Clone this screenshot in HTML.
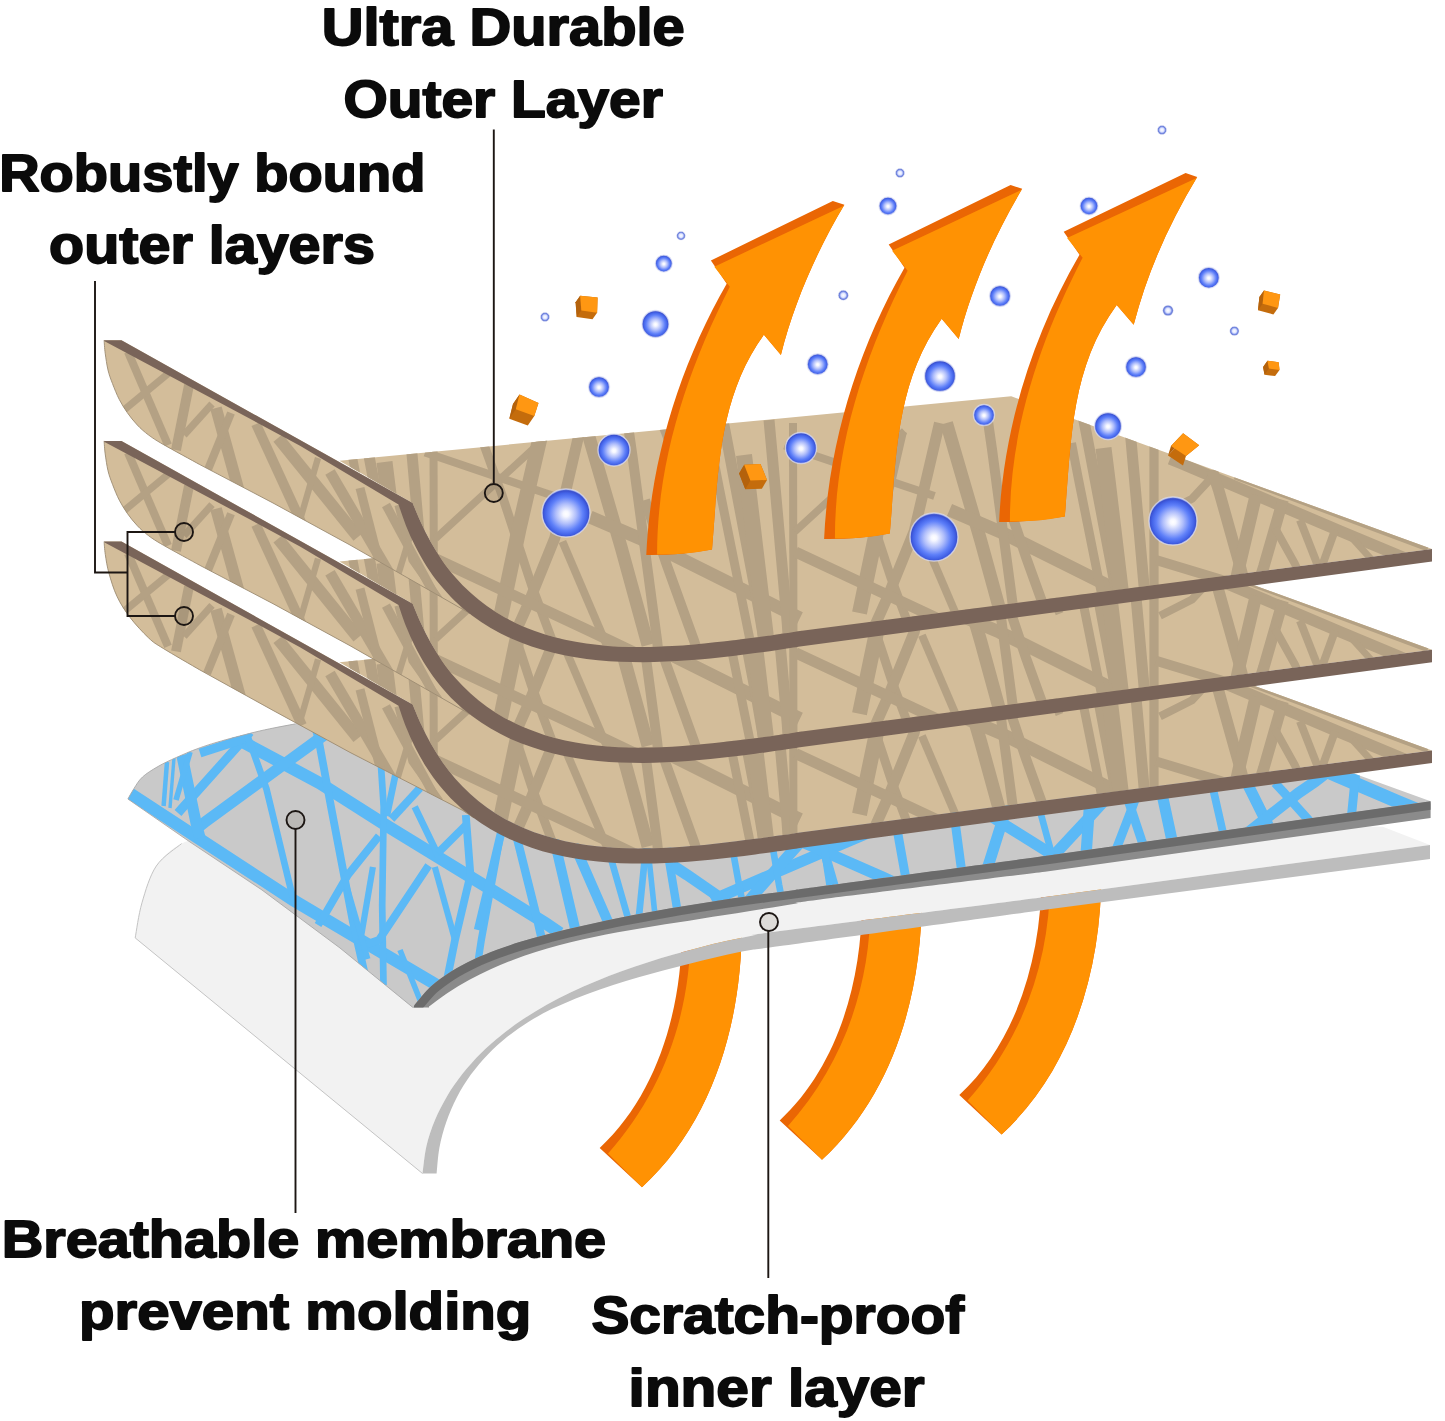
<!DOCTYPE html>
<html lang="en">
<head>
<meta charset="utf-8">
<title>Layer diagram</title>
<style>
html,body{margin:0;padding:0;background:#fff;}
body{width:1445px;height:1421px;overflow:hidden;}
svg{display:block;}
text{font-family:"Liberation Sans",sans-serif;font-weight:bold;fill:#0b0b0b;}
</style>
</head>
<body>
<svg width="1445" height="1421" viewBox="0 0 1445 1421">
<defs>
<radialGradient id="bub" cx="50%" cy="52%" r="50%">
<stop offset="0" stop-color="#ffffff"/>
<stop offset="0.12" stop-color="#f6f7ff"/>
<stop offset="0.42" stop-color="#b0befb"/>
<stop offset="0.7" stop-color="#5f80f9"/>
<stop offset="0.87" stop-color="#4363e8"/>
<stop offset="0.96" stop-color="#3a50cf"/>
<stop offset="1" stop-color="#5a6fd6"/>
</radialGradient>
<radialGradient id="bubS" cx="50%" cy="50%" r="50%">
<stop offset="0" stop-color="#ffffff"/>
<stop offset="0.45" stop-color="#dfe5ff"/>
<stop offset="0.72" stop-color="#7f93ea"/>
<stop offset="0.9" stop-color="#5468cc"/>
<stop offset="1" stop-color="#6f81d6"/>
</radialGradient>
<clipPath id="cTop"><path d="M339.4,460.8 L1011.2,396.3 L1432,549 L800,631 C796.5,631.5 785.9,633.2 778.8,634.2 C771.7,635.3 764.6,636.3 757.5,637.2 C750.4,638.1 743.3,639 736.1,639.9 C729,640.8 721.9,641.6 714.8,642.3 C707.7,643.1 700.6,643.8 693.5,644.4 C686.4,645 679.3,645.6 672.1,646 C665,646.4 657.9,646.7 650.7,646.9 C643.5,647 636.4,647.1 629.2,646.9 C622,646.8 614.8,646.5 607.7,645.9 C600.5,645.4 593.4,644.6 586.3,643.6 C579.2,642.6 572.1,641.3 565.1,639.8 C558.1,638.2 551.1,636.4 544.3,634.2 C537.5,632.1 530.7,629.6 524.2,626.9 C517.6,624.1 511.2,620.9 504.9,617.5 C498.7,614 492.7,610.2 486.9,606.1 C481.1,601.9 475.5,597.4 470.3,592.6 C465,587.8 460,582.7 455.3,577.3 C450.6,571.9 446.1,566.1 442,560.2 C437.9,554.3 434.2,548.1 430.6,541.8 C427.1,535.5 423.9,529 420.9,522.5 C417.9,516.1 414,506.3 412.6,503 Z"/></clipPath>
<clipPath id="cFlap"><path d="M104.1,340.2 L121.5,340.2 L412.6,503 C414,506.3 417.9,516.1 420.9,522.5 C423.9,529 427.1,535.5 430.6,541.8 C434.2,548.1 437.9,554.3 442,560.2 C446.1,566.1 450.6,571.9 455.3,577.3 C460,582.7 465,587.8 470.3,592.6 C475.5,597.4 484.1,603.8 486.9,606.1 L470,613.5 L350,545 L273,503 L199.8,464.6 C193.7,461.2 171.7,449.3 163.2,444.4 C154.7,439.5 152.9,438.2 148.6,435 C144.3,431.8 140.9,428.8 137.3,425 C133.7,421.2 130.2,416.8 127.2,412.5 C124.2,408.2 121.8,404.3 119.3,399.5 C116.8,394.7 114.4,388.5 112.5,383.6 C110.6,378.7 109.2,375.1 108,370 C106.8,364.9 105.9,358.2 105.2,353.2 C104.5,348.2 104.3,342.4 104.1,340.2 Z"/></clipPath>
<clipPath id="cFlap3"><path d="M104.1,340.2 L121.5,340.2 L412.6,503 C414,506.3 417.9,516.1 420.9,522.5 C423.9,529 427.1,535.5 430.6,541.8 C434.2,548.1 437.9,554.3 442,560.2 C446.1,566.1 450.6,571.9 455.3,577.3 C460,582.7 465,587.8 470.3,592.6 C475.5,597.4 484.1,603.8 486.9,606.1 L474,616.5 L462.7,609 L350,551 L273,509 L199.8,468.5 C193.7,464.9 171.7,452.3 163.2,447 C154.7,441.7 154.1,441.7 148.6,436.5 C143.1,431.3 135.3,422.9 130,416 C124.7,409.1 120.5,402.3 117,395 C113.5,387.7 111,379 109,372 C107,365 106.1,358.3 105.3,353 C104.5,347.7 104.3,342.3 104.1,340.2 Z"/></clipPath>
<clipPath id="cMemBand"><path d="M414.5,1005 C417.3,1001.9 425,991.9 431.1,986.3 C437.3,980.8 444.1,976 451.1,971.5 C458.2,967 465.7,963.2 473.4,959.5 C481,955.9 489,952.8 496.9,949.8 C504.9,946.8 513.1,944.2 521.3,941.6 C529.4,939.1 537.7,936.8 545.9,934.7 C554.1,932.5 562.4,930.5 570.6,928.5 C578.8,926.6 587,924.7 595.3,923 C603.5,921.2 611.7,919.5 619.9,917.8 C628.1,916.2 636.3,914.6 644.5,913.1 C652.7,911.5 660.9,910 669.2,908.6 C677.5,907.1 685.8,905.7 694.1,904.4 C702.5,903 710.9,901.7 719.3,900.4 C727.7,899.1 736.2,897.9 744.6,896.7 C753.1,895.5 761.6,894.4 770.1,893.2 C778.5,892.1 787,891 795.3,889.9 C803.7,888.7 778.4,892.1 820,886.5 C861.6,880.9 1007.5,861.1 1045,856 L1430.6,801.3 L1430.6,818 L1045,871.7 C1007.5,876.3 861.5,894.1 820,899.4 C778.5,904.7 804.2,902.1 796.3,903.4 C788.4,904.7 780.4,906.1 772.5,907.4 C764.5,908.7 756.6,910 748.6,911.3 C740.7,912.6 732.7,913.8 724.8,915.1 C716.8,916.3 708.9,917.5 700.9,918.7 C693,920 685.1,921.2 677.1,922.4 C669.2,923.6 661.3,924.9 653.3,926.2 C645.4,927.5 637.5,928.8 629.6,930.2 C621.7,931.6 613.8,933 605.9,934.5 C598,936.1 590.2,937.7 582.3,939.5 C574.5,941.3 566.7,943.2 558.9,945.3 C551.1,947.4 543.4,949.6 535.7,952 C528.1,954.4 520.4,957 512.9,959.9 C505.4,962.8 497.9,965.8 490.6,969.2 C483.3,972.5 476,976.1 469,979.9 C461.9,983.8 455,987.9 448.3,992.4 C441.7,996.8 432.2,1004.2 429,1006.6 L429,1007.4 L413.4,1007.4 Z"/></clipPath>
<clipPath id="cMem"><path d="M127.9,799 C128.9,797.2 131.6,792.2 134,788.5 C136.4,784.8 138.5,780.7 142.5,777 C146.5,773.3 152.4,769.8 158,766.5 C163.6,763.2 169.6,760.5 176.3,757.5 C183,754.5 190.5,751.2 198,748.5 C205.5,745.8 211,743.9 221.3,741 C231.6,738.1 247.2,733.9 259.6,731 C272,728.1 284,725.8 295.7,723.8 C307.4,721.8 324.3,719.8 330,719 L700,740 L1354.6,773.7 L1430.6,801.3 L1045,856 C1007.5,861.1 861.6,880.9 820,886.5 C778.4,892.1 803.7,888.7 795.3,889.9 C787,891 778.5,892.1 770.1,893.2 C761.6,894.4 753.1,895.5 744.6,896.7 C736.2,897.9 727.7,899.1 719.3,900.4 C710.9,901.7 702.5,903 694.1,904.4 C685.8,905.7 677.5,907.1 669.2,908.6 C660.9,910 652.7,911.5 644.5,913.1 C636.3,914.6 628.1,916.2 619.9,917.8 C611.7,919.5 603.5,921.2 595.3,923 C587,924.7 578.8,926.6 570.6,928.5 C562.4,930.5 554.1,932.5 545.9,934.7 C537.7,936.8 529.4,939.1 521.3,941.6 C513.1,944.2 504.9,946.8 496.9,949.8 C489,952.8 481,955.9 473.4,959.5 C465.7,963.2 458.2,967 451.1,971.5 C444.1,976 437.3,980.8 431.1,986.3 C425,991.9 417.3,1001.9 414.5,1005 L412.8,1007.4 L340,948 L262,890 L190,842 Z"/></clipPath>
</defs>
<rect width="1445" height="1421" fill="#fff"/>
<g transform="translate(-180,27.5)"><path d="M861.8,900 C862.4,978.2 838.6,1066.0 779.7,1120.4 L822,1159.8 C894.6,1092.9 922.3,991.0 921.8,895.0 Z" fill="#ea6604"/><path d="M870.4,900 C871.5,983.5 844.0,1063.4 788.0,1126.0 L822,1159.8 C894.6,1092.9 922.3,991.0 921.8,895.0 Z" fill="#ff9203"/></g>
<g transform="translate(0,0)"><path d="M861.8,900 C862.4,978.2 838.6,1066.0 779.7,1120.4 L822,1159.8 C894.6,1092.9 922.3,991.0 921.8,895.0 Z" fill="#ea6604"/><path d="M870.4,900 C871.5,983.5 844.0,1063.4 788.0,1126.0 L822,1159.8 C894.6,1092.9 922.3,991.0 921.8,895.0 Z" fill="#ff9203"/></g>
<g transform="translate(179.6,-25.4)"><path d="M861.8,900 C862.4,978.2 838.6,1066.0 779.7,1120.4 L822,1159.8 C894.6,1092.9 922.3,991.0 921.8,895.0 Z" fill="#ea6604"/><path d="M870.4,900 C871.5,983.5 844.0,1063.4 788.0,1126.0 L822,1159.8 C894.6,1092.9 922.3,991.0 921.8,895.0 Z" fill="#ff9203"/></g>
<path d="M135.2,937.9 C136.3,932 138.5,914.7 142,902.7 C145.5,890.7 149.7,875.9 156.3,866 C162.9,856.1 171.8,848.8 181.6,843.6 C191.4,838.4 209.4,836.4 215,835 L700,820 L1382.8,826.7 L1430,845 L1045,897 C1000.8,902.7 828.7,924.6 780,931 C731.3,937.4 761.9,933.8 752.9,935.4 C744,937.1 735.1,939 726.2,941 C717.3,943 708.5,945.1 699.8,947.4 C691,949.7 682.2,952 673.5,954.6 C664.8,957.1 656.1,959.7 647.4,962.5 C638.7,965.3 630.1,968.2 621.5,971.3 C613,974.5 604.4,977.7 596,981.2 C587.6,984.7 579.2,988.3 571,992.3 C562.8,996.2 554.6,1000.4 546.7,1004.8 C538.7,1009.3 530.9,1014 523.3,1019.1 C515.7,1024.1 508.3,1029.5 501.3,1035.2 C494.2,1040.9 487.3,1046.9 480.9,1053.3 C474.5,1059.7 468.4,1066.5 462.7,1073.6 C457.1,1080.7 451.8,1088.2 447.2,1096 C442.6,1103.8 438.4,1111.9 434.9,1120.3 C431.4,1128.7 428.5,1137.4 426.4,1146.3 C424.4,1155.2 423.2,1169 422.5,1173.5 Z" fill="#f2f2f2"/>
<path d="M422.5,1173.5 L135.2,937.9 C136.3,932 138.5,914.7 142,902.7 C145.5,890.7 149.7,875.9 156.3,866 C162.9,856.1 177.4,847.3 181.6,843.6" fill="none" stroke="#c4c4c4" stroke-width="1"/>
<path d="M422.5,1173.5 C423.2,1169 424.4,1155.2 426.4,1146.3 C428.5,1137.4 431.4,1128.7 434.9,1120.3 C438.4,1111.9 442.6,1103.8 447.2,1096 C451.8,1088.2 457.1,1080.7 462.7,1073.6 C468.4,1066.5 474.5,1059.7 480.9,1053.3 C487.3,1046.9 494.2,1040.9 501.3,1035.2 C508.3,1029.5 515.7,1024.1 523.3,1019.1 C530.9,1014 538.7,1009.3 546.7,1004.8 C554.6,1000.4 562.8,996.2 571,992.3 C579.2,988.3 587.6,984.7 596,981.2 C604.4,977.7 613,974.5 621.5,971.3 C630.1,968.2 638.7,965.3 647.4,962.5 C656.1,959.7 664.8,957.1 673.5,954.6 C682.2,952 691,949.7 699.8,947.4 C708.5,945.1 717.3,943 726.2,941 C735.1,939 744,937.1 752.9,935.4 C761.9,933.8 731.3,937.4 780,931 C828.7,924.6 1000.8,902.7 1045,897 L1430,845 L1430,859 L1045,909.7 C1000.8,915.8 828.6,939.4 780,946 C731.4,952.6 762.3,948 753.6,949.5 C744.9,950.9 736.3,952.7 727.8,954.5 C719.2,956.4 710.8,958.4 702.3,960.5 C693.8,962.6 685.3,964.8 676.8,967 C668.3,969.2 659.8,971.5 651.3,973.8 C642.8,976.2 634.3,978.6 625.9,981.1 C617.4,983.7 608.9,986.3 600.6,989.2 C592.2,992.1 583.9,995 575.7,998.4 C567.6,1001.7 559.5,1005.2 551.6,1009.1 C543.8,1013 536.1,1017.2 528.7,1021.8 C521.3,1026.4 514.1,1031.4 507.3,1036.8 C500.5,1042.3 493.9,1048.1 487.9,1054.4 C481.8,1060.7 476.1,1067.5 470.9,1074.6 C465.8,1081.8 461,1089.4 456.9,1097.3 C452.8,1105.2 449.2,1113.6 446.3,1122 C443.4,1130.4 441,1139.2 439.4,1147.8 C437.8,1156.4 437.1,1169.2 436.6,1173.5 Z" fill="#bdbdbd"/>
<path d="M127.9,799 C128.9,797.2 131.6,792.2 134,788.5 C136.4,784.8 138.5,780.7 142.5,777 C146.5,773.3 152.4,769.8 158,766.5 C163.6,763.2 169.6,760.5 176.3,757.5 C183,754.5 190.5,751.2 198,748.5 C205.5,745.8 211,743.9 221.3,741 C231.6,738.1 247.2,733.9 259.6,731 C272,728.1 284,725.8 295.7,723.8 C307.4,721.8 324.3,719.8 330,719 L700,740 L1354.6,773.7 L1430.6,801.3 L1045,856 C1007.5,861.1 861.6,880.9 820,886.5 C778.4,892.1 803.7,888.7 795.3,889.9 C787,891 778.5,892.1 770.1,893.2 C761.6,894.4 753.1,895.5 744.6,896.7 C736.2,897.9 727.7,899.1 719.3,900.4 C710.9,901.7 702.5,903 694.1,904.4 C685.8,905.7 677.5,907.1 669.2,908.6 C660.9,910 652.7,911.5 644.5,913.1 C636.3,914.6 628.1,916.2 619.9,917.8 C611.7,919.5 603.5,921.2 595.3,923 C587,924.7 578.8,926.6 570.6,928.5 C562.4,930.5 554.1,932.5 545.9,934.7 C537.7,936.8 529.4,939.1 521.3,941.6 C513.1,944.2 504.9,946.8 496.9,949.8 C489,952.8 481,955.9 473.4,959.5 C465.7,963.2 458.2,967 451.1,971.5 C444.1,976 437.3,980.8 431.1,986.3 C425,991.9 417.3,1001.9 414.5,1005 L412.8,1007.4 L340,948 L262,890 L190,842 Z" fill="#c9c9c9"/>
<g clip-path="url(#cMem)"><g fill="none" stroke="#5bb9f6"><path d="M120,787 L131.3,794.4 L293.1,900 L360.5,940 L430.8,981.5 L445,990" stroke-width="12.3"/><path d="M232,736 L239.6,740.3 L320,783.2 L388.4,826.8 L500,895 L545,923 L560,933" stroke-width="12.3"/><path d="M200,826 L204.4,822.6 L288.9,760.7 L320,738.1 L345,720" stroke-width="11.2"/><path d="M178,813 L181.9,808.5 L241,742.4 L250,732" stroke-width="9"/><path d="M200,753 L245,738.5" stroke-width="9"/><path d="M247,735 L250.9,745.2 L266.4,788.8 L291.7,893 L296,905" stroke-width="6.7"/><path d="M181.9,755 L196,822.6 L200,838" stroke-width="11.2"/><path d="M167,762 L163.6,806" stroke-width="4.5"/><path d="M174,758 L170,808" stroke-width="3.4"/><path d="M190,752 L176,800" stroke-width="5.6"/><path d="M316,730 L318.7,740 L331,806.7 L352.8,921.3 L365,975" stroke-width="7.8"/><path d="M380.6,760 L383.7,806.7 L382.2,905.8 L383.5,985" stroke-width="6.7"/><path d="M396,772 L386.8,816" stroke-width="6.7"/><path d="M420,788 L391.5,819" stroke-width="7.8"/><path d="M414.7,806.7 L434.8,848.5 L438,856" stroke-width="6.7"/><path d="M466,825 L437.9,853" stroke-width="7.8"/><path d="M465.8,815 L470.4,874.8 L455,940 L446,985" stroke-width="7.8"/><path d="M379,836 L348,874.8 L326.4,912 L318,925" stroke-width="7.8"/><path d="M428.6,865.5 L379,940 L356.5,947.7" stroke-width="7.8"/><path d="M372.9,867 L360.5,940" stroke-width="6.2"/><path d="M434.8,867 L455,940" stroke-width="6.2"/><path d="M500,837.7 L481.3,940 L476,975" stroke-width="7.3"/><path d="M345,880 L367.7,959" stroke-width="5.6"/><path d="M400,950 L420,1000" stroke-width="5.6"/><path d="M503,825 L500,837.3 L490,879.7 L478,930" stroke-width="8.4"/><path d="M514,826 L517.4,839.8 L537.3,919.5 L542,940" stroke-width="8.4"/><path d="M553,835 L557.2,852.2 L574.7,927 L578,940" stroke-width="10.1"/><path d="M574,845 L579.7,857.2 L607,919.5 L614,935" stroke-width="10.1"/><path d="M608,848 L612,862.2 L627,914.5 L631,928" stroke-width="6.7"/><path d="M646,848 L644.4,862.2 L639.4,912 L637,930" stroke-width="6.7"/><path d="M648,848 L649.4,862.2 L654.4,909.5 L657,925" stroke-width="5.6"/><path d="M667,848 L669.3,862.2 L676.8,907 L680,925" stroke-width="8.4"/><path d="M672,865 L686.8,874.7 L719.2,897 L730,905" stroke-width="11.2"/><path d="M712,901 L719.2,897 L840,844.8 L870,832" stroke-width="11.2"/><path d="M732,845 L734,857 L739,884.6 L742,900" stroke-width="6.7"/><path d="M748,902 L754,894.6 L791.4,852.2 L805,837" stroke-width="11.2"/><path d="M772,842 L774,854.7 L779,884.6 L782,900" stroke-width="6.7"/><path d="M820,835 L823.8,849.8 L833.8,884.6 L838,900" stroke-width="9"/><path d="M800,841 L820,849.6 L882.3,877 L900,885" stroke-width="11.2"/><path d="M823,838 L825,852 L830,884.5 L832,897" stroke-width="7.8"/><path d="M896,823 L898.5,837.2 L904.7,872 L908,890" stroke-width="9"/><path d="M953,812 L955.8,827.2 L960.8,864.6 L963,880" stroke-width="9"/><path d="M1008,805 L1001.9,822.2 L989.4,862 L984,878" stroke-width="11.2"/><path d="M985,812 L1004.4,824.7 L1044.2,849.6 L1062,861" stroke-width="11.2"/><path d="M1045,865 L1059.2,849.6 L1094,812.2 L1106,799" stroke-width="11.2"/><path d="M1038,803 L1041.7,817.2 L1049.2,844.6 L1054,862" stroke-width="6.7"/><path d="M1090,798 L1089,812.2 L1086.6,847 L1085,865" stroke-width="11.2"/><path d="M1136,797 L1131.4,809.8 L1119,842 L1112,860" stroke-width="9"/><path d="M1127,797 L1131.4,809.8 L1141.4,839.7 L1148,858" stroke-width="9"/><path d="M1161,790 L1163.8,802.3 L1171.3,837.2 L1176,858" stroke-width="11.2"/><path d="M1211,780 L1214,793 L1222.3,829.5 L1227,850" stroke-width="7.8"/><path d="M1244,777 L1250.5,790 L1267.4,824 L1278,845" stroke-width="11.2"/><path d="M1240,839 L1259,824 L1298.3,793 L1315,781.6 L1330,770" stroke-width="11.2"/><path d="M1275,783 L1284.3,793 L1306.8,818 L1322,835" stroke-width="9"/><path d="M1315,766 L1337.7,776 L1396.9,801.3 L1432,816" stroke-width="13.4"/><path d="M1356,770 L1354.6,784.4 L1351.8,812.6 L1350,830" stroke-width="9"/></g></g>
<path d="M412.8,1007.4 L340,948 L262,890 L190,842 L127.9,799 C128.9,797.2 131.6,792.2 134,788.5 C136.4,784.8 138.5,780.7 142.5,777 C146.5,773.3 152.4,769.8 158,766.5 C163.6,763.2 169.6,760.5 176.3,757.5 C183,754.5 190.5,751.2 198,748.5 C205.5,745.8 211,743.9 221.3,741 C231.6,738.1 247.2,733.9 259.6,731 C272,728.1 289.7,725 295.7,723.8" fill="none" stroke="#a9a9a9" stroke-width="0.9"/>
<path d="M414.5,1005 C417.3,1001.9 425,991.9 431.1,986.3 C437.3,980.8 444.1,976 451.1,971.5 C458.2,967 465.7,963.2 473.4,959.5 C481,955.9 489,952.8 496.9,949.8 C504.9,946.8 513.1,944.2 521.3,941.6 C529.4,939.1 537.7,936.8 545.9,934.7 C554.1,932.5 562.4,930.5 570.6,928.5 C578.8,926.6 587,924.7 595.3,923 C603.5,921.2 611.7,919.5 619.9,917.8 C628.1,916.2 636.3,914.6 644.5,913.1 C652.7,911.5 660.9,910 669.2,908.6 C677.5,907.1 685.8,905.7 694.1,904.4 C702.5,903 710.9,901.7 719.3,900.4 C727.7,899.1 736.2,897.9 744.6,896.7 C753.1,895.5 761.6,894.4 770.1,893.2 C778.5,892.1 787,891 795.3,889.9 C803.7,888.7 778.4,892.1 820,886.5 C861.6,880.9 1007.5,861.1 1045,856 L1430.6,801.3 L1430.6,818 L1045,871.7 C1007.5,876.3 861.5,894.1 820,899.4 C778.5,904.7 804.2,902.1 796.3,903.4 C788.4,904.7 780.4,906.1 772.5,907.4 C764.5,908.7 756.6,910 748.6,911.3 C740.7,912.6 732.7,913.8 724.8,915.1 C716.8,916.3 708.9,917.5 700.9,918.7 C693,920 685.1,921.2 677.1,922.4 C669.2,923.6 661.3,924.9 653.3,926.2 C645.4,927.5 637.5,928.8 629.6,930.2 C621.7,931.6 613.8,933 605.9,934.5 C598,936.1 590.2,937.7 582.3,939.5 C574.5,941.3 566.7,943.2 558.9,945.3 C551.1,947.4 543.4,949.6 535.7,952 C528.1,954.4 520.4,957 512.9,959.9 C505.4,962.8 497.9,965.8 490.6,969.2 C483.3,972.5 476,976.1 469,979.9 C461.9,983.8 455,987.9 448.3,992.4 C441.7,996.8 432.2,1004.2 429,1006.6 L429,1007.4 L413.4,1007.4 Z" fill="#8b8b8b"/>
<g clip-path="url(#cMemBand)"><path d="M413,1008 L414.5,1005 C417.3,1001.9 425,991.9 431.1,986.3 C437.3,980.8 444.1,976 451.1,971.5 C458.2,967 465.7,963.2 473.4,959.5 C481,955.9 489,952.8 496.9,949.8 C504.9,946.8 513.1,944.2 521.3,941.6 C529.4,939.1 537.7,936.8 545.9,934.7 C554.1,932.5 562.4,930.5 570.6,928.5 C578.8,926.6 587,924.7 595.3,923 C603.5,921.2 611.7,919.5 619.9,917.8 C628.1,916.2 636.3,914.6 644.5,913.1 C652.7,911.5 660.9,910 669.2,908.6 C677.5,907.1 685.8,905.7 694.1,904.4 C702.5,903 710.9,901.7 719.3,900.4 C727.7,899.1 736.2,897.9 744.6,896.7 C753.1,895.5 761.6,894.4 770.1,893.2 C778.5,892.1 787,891 795.3,889.9 C803.7,888.7 778.4,892.1 820,886.5 C861.6,880.9 1007.5,861.1 1045,856 L1430.6,801.3" fill="none" stroke="#686868" stroke-width="17" stroke-opacity="0.92"/></g>
<g transform="translate(0,201.4)"><path d="M339.4,460.8 L1011.2,396.3 L1432,549 L800,631 C796.5,631.5 785.9,633.2 778.8,634.2 C771.7,635.3 764.6,636.3 757.5,637.2 C750.4,638.1 743.3,639 736.1,639.9 C729,640.8 721.9,641.6 714.8,642.3 C707.7,643.1 700.6,643.8 693.5,644.4 C686.4,645 679.3,645.6 672.1,646 C665,646.4 657.9,646.7 650.7,646.9 C643.5,647 636.4,647.1 629.2,646.9 C622,646.8 614.8,646.5 607.7,645.9 C600.5,645.4 593.4,644.6 586.3,643.6 C579.2,642.6 572.1,641.3 565.1,639.8 C558.1,638.2 551.1,636.4 544.3,634.2 C537.5,632.1 530.7,629.6 524.2,626.9 C517.6,624.1 511.2,620.9 504.9,617.5 C498.7,614 492.7,610.2 486.9,606.1 C481.1,601.9 475.5,597.4 470.3,592.6 C465,587.8 460,582.7 455.3,577.3 C450.6,571.9 446.1,566.1 442,560.2 C437.9,554.3 434.2,548.1 430.6,541.8 C427.1,535.5 423.9,529 420.9,522.5 C417.9,516.1 414,506.3 412.6,503 Z" fill="#d3bd9a"/><g clip-path="url(#cTop)"><g fill="none" stroke="#b4a184" stroke-linecap="butt"><g transform="translate(-359.5,7)"><path d="M433.5,430 L434,660" stroke-width="8"/><path d="M425,452.5 L437,456.5 L545,493 L575,503" stroke-width="8"/><path d="M435.5,538.4 L489.7,488.8 L545,438" stroke-width="7.5"/><path d="M483,442 L502,495 L531.5,584.8 L552,640" stroke-width="9"/><path d="M540,438 L519,529 L500,620" stroke-width="15"/><path d="M580,430 L554.7,538.4 L528.4,603.4 L512,640" stroke-width="11"/><path d="M587,430 L621.3,547.7 L648,645" stroke-width="13"/><path d="M562.4,541.5 L610,653" stroke-width="8"/><path d="M590,517 L640,538.4 L784,610.3 L800,618" stroke-width="13"/><path d="M436,559 L590.3,631.3 L640,655" stroke-width="11"/><path d="M628,425 L632.4,455.5 L657.2,641.3 L660,670" stroke-width="10"/><path d="M645,500 L666.4,563.9 L694.3,641.3 L702,665" stroke-width="10"/><path d="M712,450 L719,486.4 L737.7,579.3 L750,640" stroke-width="9"/><path d="M722,415 L726.8,440 L756.2,594.8 L764,640" stroke-width="11"/><path d="M744,455 L748.5,491 L765.5,633.5 L767,650" stroke-width="16"/><path d="M769,420 L771.7,449.3 L787.2,622.7 L789,650" stroke-width="11"/><path d="M660,420 L700,520" stroke-width="8"/></g><g transform="translate(0,0)"><path d="M433.5,430 L434,660" stroke-width="8"/><path d="M425,452.5 L437,456.5 L545,493 L575,503" stroke-width="8"/><path d="M435.5,538.4 L489.7,488.8 L545,438" stroke-width="7.5"/><path d="M483,442 L502,495 L531.5,584.8 L552,640" stroke-width="9"/><path d="M540,438 L519,529 L500,620" stroke-width="15"/><path d="M580,430 L554.7,538.4 L528.4,603.4 L512,640" stroke-width="11"/><path d="M587,430 L621.3,547.7 L648,645" stroke-width="13"/><path d="M562.4,541.5 L610,653" stroke-width="8"/><path d="M590,517 L640,538.4 L784,610.3 L800,618" stroke-width="13"/><path d="M436,559 L590.3,631.3 L640,655" stroke-width="11"/><path d="M628,425 L632.4,455.5 L657.2,641.3 L660,670" stroke-width="10"/><path d="M645,500 L666.4,563.9 L694.3,641.3 L702,665" stroke-width="10"/><path d="M712,450 L719,486.4 L737.7,579.3 L750,640" stroke-width="9"/><path d="M722,415 L726.8,440 L756.2,594.8 L764,640" stroke-width="11"/><path d="M744,455 L748.5,491 L765.5,633.5 L767,650" stroke-width="16"/><path d="M769,420 L771.7,449.3 L787.2,622.7 L789,650" stroke-width="11"/><path d="M660,420 L700,520" stroke-width="8"/></g><g transform="translate(359.5,-7)"><path d="M433.5,430 L434,660" stroke-width="8"/><path d="M425,452.5 L437,456.5 L545,493 L575,503" stroke-width="8"/><path d="M435.5,538.4 L489.7,488.8 L545,438" stroke-width="7.5"/><path d="M483,442 L502,495 L531.5,584.8 L552,640" stroke-width="9"/><path d="M540,438 L519,529 L500,620" stroke-width="15"/><path d="M580,430 L554.7,538.4 L528.4,603.4 L512,640" stroke-width="11"/><path d="M587,430 L621.3,547.7 L648,645" stroke-width="13"/><path d="M562.4,541.5 L610,653" stroke-width="8"/><path d="M590,517 L640,538.4 L784,610.3 L800,618" stroke-width="13"/><path d="M436,559 L590.3,631.3 L640,655" stroke-width="11"/><path d="M628,425 L632.4,455.5 L657.2,641.3 L660,670" stroke-width="10"/><path d="M645,500 L666.4,563.9 L694.3,641.3 L702,665" stroke-width="10"/><path d="M712,450 L719,486.4 L737.7,579.3 L750,640" stroke-width="9"/><path d="M722,415 L726.8,440 L756.2,594.8 L764,640" stroke-width="11"/><path d="M744,455 L748.5,491 L765.5,633.5 L767,650" stroke-width="16"/><path d="M769,420 L771.7,449.3 L787.2,622.7 L789,650" stroke-width="11"/><path d="M660,420 L700,520" stroke-width="8"/></g><path d="M1154,430 L1154,610" stroke-width="9.2"/><path d="M1170,459 L1180,463 L1340,531 L1400,556 L1440,573" stroke-width="11.5"/><path d="M1235,476 L1428,548" stroke-width="6.9"/><path d="M1160,515 L1192,498.8 L1215,474" stroke-width="8"/><path d="M1212,470 L1218.8,490.4 L1241.3,570.6 L1246,590" stroke-width="11.5"/><path d="M1256,495 L1238.5,569.2 L1234,590" stroke-width="12.6"/><path d="M1283,500 L1263.9,566.4 L1258,585" stroke-width="11.5"/><path d="M1275,528 L1294.8,563.6 L1300,575" stroke-width="8"/><path d="M1156,560 L1218.8,579 L1240,586" stroke-width="9.8"/><path d="M1300,520 L1318,566" stroke-width="8"/><path d="M1335,530 L1322,566" stroke-width="8"/><path d="M1352,538 L1372,560" stroke-width="6.9"/></g></g><path d="M104.1,340.2 L121.5,340.2 L412.6,503 C414,506.3 417.9,516.1 420.9,522.5 C423.9,529 427.1,535.5 430.6,541.8 C434.2,548.1 437.9,554.3 442,560.2 C446.1,566.1 450.6,571.9 455.3,577.3 C460,582.7 465,587.8 470.3,592.6 C475.5,597.4 484.1,603.8 486.9,606.1 L474,616.5 L462.7,609 L350,551 L273,509 L199.8,468.5 C193.7,464.9 171.7,452.3 163.2,447 C154.7,441.7 154.1,441.7 148.6,436.5 C143.1,431.3 135.3,422.9 130,416 C124.7,409.1 120.5,402.3 117,395 C113.5,387.7 111,379 109,372 C107,365 106.1,358.3 105.3,353 C104.5,347.7 104.3,342.3 104.1,340.2 Z" fill="#d3bd9a"/><g clip-path="url(#cFlap3)"><g fill="none" stroke="#b4a184"><path d="M128,352 L168,445" stroke-width="8.1"/><path d="M170,372 L124,410" stroke-width="7.2"/><path d="M189,385 L176,450" stroke-width="9.9"/><path d="M212,404 L184,435" stroke-width="7.2"/><path d="M216,408 L240,495" stroke-width="11.7"/><path d="M231,413 L207,472" stroke-width="8.1"/><path d="M256,424 L302,524" stroke-width="9.9"/><path d="M278,438 L358,537" stroke-width="11.7"/><path d="M318,458 L300,520" stroke-width="6.3"/><path d="M330,472 L392,578" stroke-width="10.8"/><path d="M360,488 L380,566" stroke-width="9"/><path d="M386,505 L434,594" stroke-width="9"/><path d="M398,505 L412,560 L440,600" stroke-width="7.2"/><path d="M415,520 L395,585" stroke-width="6.3"/><path d="M430,560 L475,620" stroke-width="7.2"/></g></g><path d="M474,616.5 L462.7,609 L350,551 L273,509 L199.8,468.5 C193.7,464.9 171.7,452.3 163.2,447 C154.7,441.7 154.1,441.7 148.6,436.5 C143.1,431.3 135.3,422.9 130,416 C124.7,409.1 120.5,402.3 117,395 C113.5,387.7 111,379 109,372 C107,365 106.1,358.3 105.3,353 C104.5,347.7 104.3,342.3 104.1,340.2" fill="none" stroke="#9c8b72" stroke-width="0.9"/><path d="M104.1,340.2 L121.5,340.2 L412.6,503 C414,506.3 417.9,516.1 420.9,522.5 C423.9,529 427.1,535.5 430.6,541.8 C434.2,548.1 437.9,554.3 442,560.2 C446.1,566.1 450.6,571.9 455.3,577.3 C460,582.7 465,587.8 470.3,592.6 C475.5,597.4 481.1,601.9 486.9,606.1 C492.7,610.2 498.7,614 504.9,617.5 C511.2,620.9 517.6,624.1 524.2,626.9 C530.7,629.6 537.5,632.1 544.3,634.2 C551.1,636.4 558.1,638.2 565.1,639.8 C572.1,641.3 579.2,642.6 586.3,643.6 C593.4,644.6 600.5,645.4 607.7,645.9 C614.8,646.5 622,646.8 629.2,646.9 C636.4,647.1 643.5,647 650.7,646.9 C657.9,646.7 665,646.4 672.1,646 C679.3,645.6 686.4,645 693.5,644.4 C700.6,643.8 707.7,643.1 714.8,642.3 C721.9,641.6 729,640.8 736.1,639.9 C743.3,639 750.4,638.1 757.5,637.2 C764.6,636.3 771.7,635.3 778.8,634.2 C785.9,633.2 796.5,631.5 800,631 L1432,549 L1432,561.5 L800,646.5 C796.3,647.1 785.1,648.8 777.7,649.9 C770.2,651 762.8,652.1 755.3,653.1 C747.8,654.1 740.4,655 732.9,655.9 C725.4,656.8 718,657.6 710.5,658.4 C703,659.1 695.6,659.8 688.1,660.3 C680.6,660.9 673.1,661.3 665.6,661.6 C658.1,661.9 650.6,662.2 643.1,662.2 C635.5,662.2 628,662.1 620.5,661.8 C612.9,661.4 605.4,660.9 597.9,660.2 C590.4,659.4 582.9,658.5 575.4,657.2 C568,656 560.6,654.5 553.3,652.7 C545.9,650.9 538.7,648.8 531.6,646.4 C524.5,644 517.4,641.3 510.6,638.2 C503.8,635.1 497.1,631.7 490.7,627.9 C484.2,624.1 478,619.9 472,615.4 C466.1,610.9 460.3,606.1 454.9,600.9 C449.6,595.7 444.4,590.1 439.7,584.3 C434.9,578.5 430.5,572.3 426.4,565.9 C422.3,559.6 418.6,552.9 415.2,546.1 C411.8,539.3 408.7,532.3 405.9,525.4 C403.2,518.4 399.7,507.9 398.5,504.4 L300,445.8 L250,418.8 L104.6,341.2 Z" fill="#796459"/></g>
<g transform="translate(0,100.7)"><path d="M339.4,460.8 L1011.2,396.3 L1432,549 L800,631 C796.5,631.5 785.9,633.2 778.8,634.2 C771.7,635.3 764.6,636.3 757.5,637.2 C750.4,638.1 743.3,639 736.1,639.9 C729,640.8 721.9,641.6 714.8,642.3 C707.7,643.1 700.6,643.8 693.5,644.4 C686.4,645 679.3,645.6 672.1,646 C665,646.4 657.9,646.7 650.7,646.9 C643.5,647 636.4,647.1 629.2,646.9 C622,646.8 614.8,646.5 607.7,645.9 C600.5,645.4 593.4,644.6 586.3,643.6 C579.2,642.6 572.1,641.3 565.1,639.8 C558.1,638.2 551.1,636.4 544.3,634.2 C537.5,632.1 530.7,629.6 524.2,626.9 C517.6,624.1 511.2,620.9 504.9,617.5 C498.7,614 492.7,610.2 486.9,606.1 C481.1,601.9 475.5,597.4 470.3,592.6 C465,587.8 460,582.7 455.3,577.3 C450.6,571.9 446.1,566.1 442,560.2 C437.9,554.3 434.2,548.1 430.6,541.8 C427.1,535.5 423.9,529 420.9,522.5 C417.9,516.1 414,506.3 412.6,503 Z" fill="#d3bd9a"/><g clip-path="url(#cTop)"><g fill="none" stroke="#b4a184" stroke-linecap="butt"><g transform="translate(-359.5,7)"><path d="M433.5,430 L434,660" stroke-width="8"/><path d="M425,452.5 L437,456.5 L545,493 L575,503" stroke-width="8"/><path d="M435.5,538.4 L489.7,488.8 L545,438" stroke-width="7.5"/><path d="M483,442 L502,495 L531.5,584.8 L552,640" stroke-width="9"/><path d="M540,438 L519,529 L500,620" stroke-width="15"/><path d="M580,430 L554.7,538.4 L528.4,603.4 L512,640" stroke-width="11"/><path d="M587,430 L621.3,547.7 L648,645" stroke-width="13"/><path d="M562.4,541.5 L610,653" stroke-width="8"/><path d="M590,517 L640,538.4 L784,610.3 L800,618" stroke-width="13"/><path d="M436,559 L590.3,631.3 L640,655" stroke-width="11"/><path d="M628,425 L632.4,455.5 L657.2,641.3 L660,670" stroke-width="10"/><path d="M645,500 L666.4,563.9 L694.3,641.3 L702,665" stroke-width="10"/><path d="M712,450 L719,486.4 L737.7,579.3 L750,640" stroke-width="9"/><path d="M722,415 L726.8,440 L756.2,594.8 L764,640" stroke-width="11"/><path d="M744,455 L748.5,491 L765.5,633.5 L767,650" stroke-width="16"/><path d="M769,420 L771.7,449.3 L787.2,622.7 L789,650" stroke-width="11"/><path d="M660,420 L700,520" stroke-width="8"/></g><g transform="translate(0,0)"><path d="M433.5,430 L434,660" stroke-width="8"/><path d="M425,452.5 L437,456.5 L545,493 L575,503" stroke-width="8"/><path d="M435.5,538.4 L489.7,488.8 L545,438" stroke-width="7.5"/><path d="M483,442 L502,495 L531.5,584.8 L552,640" stroke-width="9"/><path d="M540,438 L519,529 L500,620" stroke-width="15"/><path d="M580,430 L554.7,538.4 L528.4,603.4 L512,640" stroke-width="11"/><path d="M587,430 L621.3,547.7 L648,645" stroke-width="13"/><path d="M562.4,541.5 L610,653" stroke-width="8"/><path d="M590,517 L640,538.4 L784,610.3 L800,618" stroke-width="13"/><path d="M436,559 L590.3,631.3 L640,655" stroke-width="11"/><path d="M628,425 L632.4,455.5 L657.2,641.3 L660,670" stroke-width="10"/><path d="M645,500 L666.4,563.9 L694.3,641.3 L702,665" stroke-width="10"/><path d="M712,450 L719,486.4 L737.7,579.3 L750,640" stroke-width="9"/><path d="M722,415 L726.8,440 L756.2,594.8 L764,640" stroke-width="11"/><path d="M744,455 L748.5,491 L765.5,633.5 L767,650" stroke-width="16"/><path d="M769,420 L771.7,449.3 L787.2,622.7 L789,650" stroke-width="11"/><path d="M660,420 L700,520" stroke-width="8"/></g><g transform="translate(359.5,-7)"><path d="M433.5,430 L434,660" stroke-width="8"/><path d="M425,452.5 L437,456.5 L545,493 L575,503" stroke-width="8"/><path d="M435.5,538.4 L489.7,488.8 L545,438" stroke-width="7.5"/><path d="M483,442 L502,495 L531.5,584.8 L552,640" stroke-width="9"/><path d="M540,438 L519,529 L500,620" stroke-width="15"/><path d="M580,430 L554.7,538.4 L528.4,603.4 L512,640" stroke-width="11"/><path d="M587,430 L621.3,547.7 L648,645" stroke-width="13"/><path d="M562.4,541.5 L610,653" stroke-width="8"/><path d="M590,517 L640,538.4 L784,610.3 L800,618" stroke-width="13"/><path d="M436,559 L590.3,631.3 L640,655" stroke-width="11"/><path d="M628,425 L632.4,455.5 L657.2,641.3 L660,670" stroke-width="10"/><path d="M645,500 L666.4,563.9 L694.3,641.3 L702,665" stroke-width="10"/><path d="M712,450 L719,486.4 L737.7,579.3 L750,640" stroke-width="9"/><path d="M722,415 L726.8,440 L756.2,594.8 L764,640" stroke-width="11"/><path d="M744,455 L748.5,491 L765.5,633.5 L767,650" stroke-width="16"/><path d="M769,420 L771.7,449.3 L787.2,622.7 L789,650" stroke-width="11"/><path d="M660,420 L700,520" stroke-width="8"/></g><path d="M1154,430 L1154,610" stroke-width="9.2"/><path d="M1170,459 L1180,463 L1340,531 L1400,556 L1440,573" stroke-width="11.5"/><path d="M1235,476 L1428,548" stroke-width="6.9"/><path d="M1160,515 L1192,498.8 L1215,474" stroke-width="8"/><path d="M1212,470 L1218.8,490.4 L1241.3,570.6 L1246,590" stroke-width="11.5"/><path d="M1256,495 L1238.5,569.2 L1234,590" stroke-width="12.6"/><path d="M1283,500 L1263.9,566.4 L1258,585" stroke-width="11.5"/><path d="M1275,528 L1294.8,563.6 L1300,575" stroke-width="8"/><path d="M1156,560 L1218.8,579 L1240,586" stroke-width="9.8"/><path d="M1300,520 L1318,566" stroke-width="8"/><path d="M1335,530 L1322,566" stroke-width="8"/><path d="M1352,538 L1372,560" stroke-width="6.9"/></g></g><path d="M104.1,340.2 L121.5,340.2 L412.6,503 C414,506.3 417.9,516.1 420.9,522.5 C423.9,529 427.1,535.5 430.6,541.8 C434.2,548.1 437.9,554.3 442,560.2 C446.1,566.1 450.6,571.9 455.3,577.3 C460,582.7 465,587.8 470.3,592.6 C475.5,597.4 484.1,603.8 486.9,606.1 L470,613.5 L350,545 L273,503 L199.8,464.6 C193.7,461.2 171.7,449.3 163.2,444.4 C154.7,439.5 152.9,438.2 148.6,435 C144.3,431.8 140.9,428.8 137.3,425 C133.7,421.2 130.2,416.8 127.2,412.5 C124.2,408.2 121.8,404.3 119.3,399.5 C116.8,394.7 114.4,388.5 112.5,383.6 C110.6,378.7 109.2,375.1 108,370 C106.8,364.9 105.9,358.2 105.2,353.2 C104.5,348.2 104.3,342.4 104.1,340.2 Z" fill="#d3bd9a"/><g clip-path="url(#cFlap)"><g fill="none" stroke="#b4a184"><path d="M128,352 L168,445" stroke-width="8.1"/><path d="M170,372 L124,410" stroke-width="7.2"/><path d="M189,385 L176,450" stroke-width="9.9"/><path d="M212,404 L184,435" stroke-width="7.2"/><path d="M216,408 L240,495" stroke-width="11.7"/><path d="M231,413 L207,472" stroke-width="8.1"/><path d="M256,424 L302,524" stroke-width="9.9"/><path d="M278,438 L358,537" stroke-width="11.7"/><path d="M318,458 L300,520" stroke-width="6.3"/><path d="M330,472 L392,578" stroke-width="10.8"/><path d="M360,488 L380,566" stroke-width="9"/><path d="M386,505 L434,594" stroke-width="9"/><path d="M398,505 L412,560 L440,600" stroke-width="7.2"/><path d="M415,520 L395,585" stroke-width="6.3"/><path d="M430,560 L475,620" stroke-width="7.2"/></g></g><path d="M470,613.5 L350,545 L273,503 L199.8,464.6 C193.7,461.2 171.7,449.3 163.2,444.4 C154.7,439.5 152.9,438.2 148.6,435 C144.3,431.8 140.9,428.8 137.3,425 C133.7,421.2 130.2,416.8 127.2,412.5 C124.2,408.2 121.8,404.3 119.3,399.5 C116.8,394.7 114.4,388.5 112.5,383.6 C110.6,378.7 109.2,375.1 108,370 C106.8,364.9 105.9,358.2 105.2,353.2 C104.5,348.2 104.3,342.4 104.1,340.2" fill="none" stroke="#9c8b72" stroke-width="0.9"/><path d="M104.1,340.2 L121.5,340.2 L412.6,503 C414,506.3 417.9,516.1 420.9,522.5 C423.9,529 427.1,535.5 430.6,541.8 C434.2,548.1 437.9,554.3 442,560.2 C446.1,566.1 450.6,571.9 455.3,577.3 C460,582.7 465,587.8 470.3,592.6 C475.5,597.4 481.1,601.9 486.9,606.1 C492.7,610.2 498.7,614 504.9,617.5 C511.2,620.9 517.6,624.1 524.2,626.9 C530.7,629.6 537.5,632.1 544.3,634.2 C551.1,636.4 558.1,638.2 565.1,639.8 C572.1,641.3 579.2,642.6 586.3,643.6 C593.4,644.6 600.5,645.4 607.7,645.9 C614.8,646.5 622,646.8 629.2,646.9 C636.4,647.1 643.5,647 650.7,646.9 C657.9,646.7 665,646.4 672.1,646 C679.3,645.6 686.4,645 693.5,644.4 C700.6,643.8 707.7,643.1 714.8,642.3 C721.9,641.6 729,640.8 736.1,639.9 C743.3,639 750.4,638.1 757.5,637.2 C764.6,636.3 771.7,635.3 778.8,634.2 C785.9,633.2 796.5,631.5 800,631 L1432,549 L1432,561.5 L800,646.5 C796.3,647.1 785.1,648.8 777.7,649.9 C770.2,651 762.8,652.1 755.3,653.1 C747.8,654.1 740.4,655 732.9,655.9 C725.4,656.8 718,657.6 710.5,658.4 C703,659.1 695.6,659.8 688.1,660.3 C680.6,660.9 673.1,661.3 665.6,661.6 C658.1,661.9 650.6,662.2 643.1,662.2 C635.5,662.2 628,662.1 620.5,661.8 C612.9,661.4 605.4,660.9 597.9,660.2 C590.4,659.4 582.9,658.5 575.4,657.2 C568,656 560.6,654.5 553.3,652.7 C545.9,650.9 538.7,648.8 531.6,646.4 C524.5,644 517.4,641.3 510.6,638.2 C503.8,635.1 497.1,631.7 490.7,627.9 C484.2,624.1 478,619.9 472,615.4 C466.1,610.9 460.3,606.1 454.9,600.9 C449.6,595.7 444.4,590.1 439.7,584.3 C434.9,578.5 430.5,572.3 426.4,565.9 C422.3,559.6 418.6,552.9 415.2,546.1 C411.8,539.3 408.7,532.3 405.9,525.4 C403.2,518.4 399.7,507.9 398.5,504.4 L300,445.8 L250,418.8 L104.6,341.2 Z" fill="#796459"/></g>
<g transform="translate(0,0)"><path d="M339.4,460.8 L1011.2,396.3 L1432,549 L800,631 C796.5,631.5 785.9,633.2 778.8,634.2 C771.7,635.3 764.6,636.3 757.5,637.2 C750.4,638.1 743.3,639 736.1,639.9 C729,640.8 721.9,641.6 714.8,642.3 C707.7,643.1 700.6,643.8 693.5,644.4 C686.4,645 679.3,645.6 672.1,646 C665,646.4 657.9,646.7 650.7,646.9 C643.5,647 636.4,647.1 629.2,646.9 C622,646.8 614.8,646.5 607.7,645.9 C600.5,645.4 593.4,644.6 586.3,643.6 C579.2,642.6 572.1,641.3 565.1,639.8 C558.1,638.2 551.1,636.4 544.3,634.2 C537.5,632.1 530.7,629.6 524.2,626.9 C517.6,624.1 511.2,620.9 504.9,617.5 C498.7,614 492.7,610.2 486.9,606.1 C481.1,601.9 475.5,597.4 470.3,592.6 C465,587.8 460,582.7 455.3,577.3 C450.6,571.9 446.1,566.1 442,560.2 C437.9,554.3 434.2,548.1 430.6,541.8 C427.1,535.5 423.9,529 420.9,522.5 C417.9,516.1 414,506.3 412.6,503 Z" fill="#d3bd9a"/><g clip-path="url(#cTop)"><g fill="none" stroke="#b4a184" stroke-linecap="butt"><g transform="translate(-359.5,7)"><path d="M433.5,430 L434,660" stroke-width="8"/><path d="M425,452.5 L437,456.5 L545,493 L575,503" stroke-width="8"/><path d="M435.5,538.4 L489.7,488.8 L545,438" stroke-width="7.5"/><path d="M483,442 L502,495 L531.5,584.8 L552,640" stroke-width="9"/><path d="M540,438 L519,529 L500,620" stroke-width="15"/><path d="M580,430 L554.7,538.4 L528.4,603.4 L512,640" stroke-width="11"/><path d="M587,430 L621.3,547.7 L648,645" stroke-width="13"/><path d="M562.4,541.5 L610,653" stroke-width="8"/><path d="M590,517 L640,538.4 L784,610.3 L800,618" stroke-width="13"/><path d="M436,559 L590.3,631.3 L640,655" stroke-width="11"/><path d="M628,425 L632.4,455.5 L657.2,641.3 L660,670" stroke-width="10"/><path d="M645,500 L666.4,563.9 L694.3,641.3 L702,665" stroke-width="10"/><path d="M712,450 L719,486.4 L737.7,579.3 L750,640" stroke-width="9"/><path d="M722,415 L726.8,440 L756.2,594.8 L764,640" stroke-width="11"/><path d="M744,455 L748.5,491 L765.5,633.5 L767,650" stroke-width="16"/><path d="M769,420 L771.7,449.3 L787.2,622.7 L789,650" stroke-width="11"/><path d="M660,420 L700,520" stroke-width="8"/></g><g transform="translate(0,0)"><path d="M433.5,430 L434,660" stroke-width="8"/><path d="M425,452.5 L437,456.5 L545,493 L575,503" stroke-width="8"/><path d="M435.5,538.4 L489.7,488.8 L545,438" stroke-width="7.5"/><path d="M483,442 L502,495 L531.5,584.8 L552,640" stroke-width="9"/><path d="M540,438 L519,529 L500,620" stroke-width="15"/><path d="M580,430 L554.7,538.4 L528.4,603.4 L512,640" stroke-width="11"/><path d="M587,430 L621.3,547.7 L648,645" stroke-width="13"/><path d="M562.4,541.5 L610,653" stroke-width="8"/><path d="M590,517 L640,538.4 L784,610.3 L800,618" stroke-width="13"/><path d="M436,559 L590.3,631.3 L640,655" stroke-width="11"/><path d="M628,425 L632.4,455.5 L657.2,641.3 L660,670" stroke-width="10"/><path d="M645,500 L666.4,563.9 L694.3,641.3 L702,665" stroke-width="10"/><path d="M712,450 L719,486.4 L737.7,579.3 L750,640" stroke-width="9"/><path d="M722,415 L726.8,440 L756.2,594.8 L764,640" stroke-width="11"/><path d="M744,455 L748.5,491 L765.5,633.5 L767,650" stroke-width="16"/><path d="M769,420 L771.7,449.3 L787.2,622.7 L789,650" stroke-width="11"/><path d="M660,420 L700,520" stroke-width="8"/></g><g transform="translate(359.5,-7)"><path d="M433.5,430 L434,660" stroke-width="8"/><path d="M425,452.5 L437,456.5 L545,493 L575,503" stroke-width="8"/><path d="M435.5,538.4 L489.7,488.8 L545,438" stroke-width="7.5"/><path d="M483,442 L502,495 L531.5,584.8 L552,640" stroke-width="9"/><path d="M540,438 L519,529 L500,620" stroke-width="15"/><path d="M580,430 L554.7,538.4 L528.4,603.4 L512,640" stroke-width="11"/><path d="M587,430 L621.3,547.7 L648,645" stroke-width="13"/><path d="M562.4,541.5 L610,653" stroke-width="8"/><path d="M590,517 L640,538.4 L784,610.3 L800,618" stroke-width="13"/><path d="M436,559 L590.3,631.3 L640,655" stroke-width="11"/><path d="M628,425 L632.4,455.5 L657.2,641.3 L660,670" stroke-width="10"/><path d="M645,500 L666.4,563.9 L694.3,641.3 L702,665" stroke-width="10"/><path d="M712,450 L719,486.4 L737.7,579.3 L750,640" stroke-width="9"/><path d="M722,415 L726.8,440 L756.2,594.8 L764,640" stroke-width="11"/><path d="M744,455 L748.5,491 L765.5,633.5 L767,650" stroke-width="16"/><path d="M769,420 L771.7,449.3 L787.2,622.7 L789,650" stroke-width="11"/><path d="M660,420 L700,520" stroke-width="8"/></g><path d="M1154,430 L1154,610" stroke-width="9.2"/><path d="M1170,459 L1180,463 L1340,531 L1400,556 L1440,573" stroke-width="11.5"/><path d="M1235,476 L1428,548" stroke-width="6.9"/><path d="M1160,515 L1192,498.8 L1215,474" stroke-width="8"/><path d="M1212,470 L1218.8,490.4 L1241.3,570.6 L1246,590" stroke-width="11.5"/><path d="M1256,495 L1238.5,569.2 L1234,590" stroke-width="12.6"/><path d="M1283,500 L1263.9,566.4 L1258,585" stroke-width="11.5"/><path d="M1275,528 L1294.8,563.6 L1300,575" stroke-width="8"/><path d="M1156,560 L1218.8,579 L1240,586" stroke-width="9.8"/><path d="M1300,520 L1318,566" stroke-width="8"/><path d="M1335,530 L1322,566" stroke-width="8"/><path d="M1352,538 L1372,560" stroke-width="6.9"/></g></g><path d="M104.1,340.2 L121.5,340.2 L412.6,503 C414,506.3 417.9,516.1 420.9,522.5 C423.9,529 427.1,535.5 430.6,541.8 C434.2,548.1 437.9,554.3 442,560.2 C446.1,566.1 450.6,571.9 455.3,577.3 C460,582.7 465,587.8 470.3,592.6 C475.5,597.4 484.1,603.8 486.9,606.1 L470,613.5 L350,545 L273,503 L199.8,464.6 C193.7,461.2 171.7,449.3 163.2,444.4 C154.7,439.5 152.9,438.2 148.6,435 C144.3,431.8 140.9,428.8 137.3,425 C133.7,421.2 130.2,416.8 127.2,412.5 C124.2,408.2 121.8,404.3 119.3,399.5 C116.8,394.7 114.4,388.5 112.5,383.6 C110.6,378.7 109.2,375.1 108,370 C106.8,364.9 105.9,358.2 105.2,353.2 C104.5,348.2 104.3,342.4 104.1,340.2 Z" fill="#d3bd9a"/><g clip-path="url(#cFlap)"><g fill="none" stroke="#b4a184"><path d="M128,352 L168,445" stroke-width="8.1"/><path d="M170,372 L124,410" stroke-width="7.2"/><path d="M189,385 L176,450" stroke-width="9.9"/><path d="M212,404 L184,435" stroke-width="7.2"/><path d="M216,408 L240,495" stroke-width="11.7"/><path d="M231,413 L207,472" stroke-width="8.1"/><path d="M256,424 L302,524" stroke-width="9.9"/><path d="M278,438 L358,537" stroke-width="11.7"/><path d="M318,458 L300,520" stroke-width="6.3"/><path d="M330,472 L392,578" stroke-width="10.8"/><path d="M360,488 L380,566" stroke-width="9"/><path d="M386,505 L434,594" stroke-width="9"/><path d="M398,505 L412,560 L440,600" stroke-width="7.2"/><path d="M415,520 L395,585" stroke-width="6.3"/><path d="M430,560 L475,620" stroke-width="7.2"/></g></g><path d="M470,613.5 L350,545 L273,503 L199.8,464.6 C193.7,461.2 171.7,449.3 163.2,444.4 C154.7,439.5 152.9,438.2 148.6,435 C144.3,431.8 140.9,428.8 137.3,425 C133.7,421.2 130.2,416.8 127.2,412.5 C124.2,408.2 121.8,404.3 119.3,399.5 C116.8,394.7 114.4,388.5 112.5,383.6 C110.6,378.7 109.2,375.1 108,370 C106.8,364.9 105.9,358.2 105.2,353.2 C104.5,348.2 104.3,342.4 104.1,340.2" fill="none" stroke="#9c8b72" stroke-width="0.9"/><path d="M104.1,340.2 L121.5,340.2 L412.6,503 C414,506.3 417.9,516.1 420.9,522.5 C423.9,529 427.1,535.5 430.6,541.8 C434.2,548.1 437.9,554.3 442,560.2 C446.1,566.1 450.6,571.9 455.3,577.3 C460,582.7 465,587.8 470.3,592.6 C475.5,597.4 481.1,601.9 486.9,606.1 C492.7,610.2 498.7,614 504.9,617.5 C511.2,620.9 517.6,624.1 524.2,626.9 C530.7,629.6 537.5,632.1 544.3,634.2 C551.1,636.4 558.1,638.2 565.1,639.8 C572.1,641.3 579.2,642.6 586.3,643.6 C593.4,644.6 600.5,645.4 607.7,645.9 C614.8,646.5 622,646.8 629.2,646.9 C636.4,647.1 643.5,647 650.7,646.9 C657.9,646.7 665,646.4 672.1,646 C679.3,645.6 686.4,645 693.5,644.4 C700.6,643.8 707.7,643.1 714.8,642.3 C721.9,641.6 729,640.8 736.1,639.9 C743.3,639 750.4,638.1 757.5,637.2 C764.6,636.3 771.7,635.3 778.8,634.2 C785.9,633.2 796.5,631.5 800,631 L1432,549 L1432,561.5 L800,646.5 C796.3,647.1 785.1,648.8 777.7,649.9 C770.2,651 762.8,652.1 755.3,653.1 C747.8,654.1 740.4,655 732.9,655.9 C725.4,656.8 718,657.6 710.5,658.4 C703,659.1 695.6,659.8 688.1,660.3 C680.6,660.9 673.1,661.3 665.6,661.6 C658.1,661.9 650.6,662.2 643.1,662.2 C635.5,662.2 628,662.1 620.5,661.8 C612.9,661.4 605.4,660.9 597.9,660.2 C590.4,659.4 582.9,658.5 575.4,657.2 C568,656 560.6,654.5 553.3,652.7 C545.9,650.9 538.7,648.8 531.6,646.4 C524.5,644 517.4,641.3 510.6,638.2 C503.8,635.1 497.1,631.7 490.7,627.9 C484.2,624.1 478,619.9 472,615.4 C466.1,610.9 460.3,606.1 454.9,600.9 C449.6,595.7 444.4,590.1 439.7,584.3 C434.9,578.5 430.5,572.3 426.4,565.9 C422.3,559.6 418.6,552.9 415.2,546.1 C411.8,539.3 408.7,532.3 405.9,525.4 C403.2,518.4 399.7,507.9 398.5,504.4 L300,445.8 L250,418.8 L104.6,341.2 Z" fill="#796459"/></g>
<g transform="translate(0,0) scale(1,1.0)"><path d="M646.3,555 C650.6,460.1 679.5,365.9 726.7,283.7 L710.9,260.5 L832.8,200.9 L844.4,204.8 C816.3,252.0 794.5,301.6 780.9,354.9 L763.9,334.8 C717.5,399.0 718.5,474.1 712.0,549.5 Q679,555.5 646.3,555 Z" fill="#ea6604"/><path d="M657.1,554.5 C657.0,460.5 687.6,369.7 729.8,286.8 L714.3,266.7 L842.8,206.3 L844.4,204.8 C816.3,252.0 794.5,301.6 780.9,354.9 L763.9,334.8 C717.5,399.0 718.5,474.1 712.0,549.5 Q685,555 657.1,554.5 Z" fill="#ff9203"/></g>
<g transform="translate(177.8,-16) scale(1,1.0)"><path d="M646.3,555 C650.6,460.1 679.5,365.9 726.7,283.7 L710.9,260.5 L832.8,200.9 L844.4,204.8 C816.3,252.0 794.5,301.6 780.9,354.9 L763.9,334.8 C717.5,399.0 718.5,474.1 712.0,549.5 Q679,555.5 646.3,555 Z" fill="#ea6604"/><path d="M657.1,554.5 C657.0,460.5 687.6,369.7 729.8,286.8 L714.3,266.7 L842.8,206.3 L844.4,204.8 C816.3,252.0 794.5,301.6 780.9,354.9 L763.9,334.8 C717.5,399.0 718.5,474.1 712.0,549.5 Q685,555 657.1,554.5 Z" fill="#ff9203"/></g>
<g transform="translate(352.8,-24.8) scale(1,0.985)"><path d="M646.3,555 C650.6,460.1 679.5,365.9 726.7,283.7 L710.9,260.5 L832.8,200.9 L844.4,204.8 C816.3,252.0 794.5,301.6 780.9,354.9 L763.9,334.8 C717.5,399.0 718.5,474.1 712.0,549.5 Q679,555.5 646.3,555 Z" fill="#ea6604"/><path d="M657.1,554.5 C657.0,460.5 687.6,369.7 729.8,286.8 L714.3,266.7 L842.8,206.3 L844.4,204.8 C816.3,252.0 794.5,301.6 780.9,354.9 L763.9,334.8 C717.5,399.0 718.5,474.1 712.0,549.5 Q685,555 657.1,554.5 Z" fill="#ff9203"/></g>
<path d="M580.2,295.8 L597.6,297.4 L597.1,312.7 L592.5,319.2 L576.7,317.1 L575.6,302.3Z" fill="#c46c0c"/><path d="M580.2,295.8 L581.3,310.6 L576.7,317.1 L575.6,302.3Z" fill="#b4620c"/><path d="M580.2,295.8 L597.6,297.4 L597.1,312.7 L581.3,310.6Z" fill="#ff9712"/>
<path d="M519.5,394.5 L538.5,403 L534.3,416.1 L527.8,425.6 L509.3,418.8 L513,404Z" fill="#c46c0c"/><path d="M519.5,394.5 L515.8,409.3 L509.3,418.8 L513,404Z" fill="#b4620c"/><path d="M519.5,394.5 L538.5,403 L534.3,416.1 L515.8,409.3Z" fill="#ff9712"/>
<path d="M744.2,464.8 L760.5,463.9 L767,480 L761.9,488.7 L745.3,489.2 L739.1,473.5Z" fill="#c46c0c"/><path d="M744.2,464.8 L750.4,480.5 L745.3,489.2 L739.1,473.5Z" fill="#b4620c"/><path d="M744.2,464.8 L760.5,463.9 L767,480 L750.4,480.5Z" fill="#ff9712"/>
<path d="M1264,290.4 L1280.2,294.6 L1278,308 L1273.4,314.5 L1258,310.3 L1259.4,296.9Z" fill="#c46c0c"/><path d="M1264,290.4 L1262.6,303.8 L1258,310.3 L1259.4,296.9Z" fill="#b4620c"/><path d="M1264,290.4 L1280.2,294.6 L1278,308 L1262.6,303.8Z" fill="#ff9712"/>
<path d="M1267.5,360.8 L1278.7,362.2 L1279.5,369.9 L1275.1,376.1 L1264.5,374.7 L1263.1,367Z" fill="#c46c0c"/><path d="M1267.5,360.8 L1268.9,368.5 L1264.5,374.7 L1263.1,367Z" fill="#b4620c"/><path d="M1267.5,360.8 L1278.7,362.2 L1279.5,369.9 L1268.9,368.5Z" fill="#ff9712"/>
<path d="M1183.1,433.2 L1199.2,445.2 L1186,456 L1183,465.5 L1168,455.5 L1180.1,442.7Z" fill="#c46c0c"/><path d="M1183.1,433.2 L1171,446 L1168,455.5 L1180.1,442.7Z" fill="#b4620c"/><path d="M1183.1,433.2 L1199.2,445.2 L1186,456 L1171,446Z" fill="#ff9712"/>
<circle cx="566" cy="513" r="24" fill="url(#bub)" stroke="#dfe2f6" stroke-opacity="0.7" stroke-width="1.4"/>
<circle cx="614" cy="450" r="16" fill="url(#bub)" stroke="#dfe2f6" stroke-opacity="0.7" stroke-width="1.4"/>
<circle cx="599" cy="387" r="10.5" fill="url(#bub)" stroke="#dfe2f6" stroke-opacity="0.7" stroke-width="1.4"/>
<circle cx="655.5" cy="324" r="13.5" fill="url(#bub)" stroke="#dfe2f6" stroke-opacity="0.7" stroke-width="1.4"/>
<circle cx="663.8" cy="263.6" r="8.5" fill="url(#bub)" stroke="#dfe2f6" stroke-opacity="0.7" stroke-width="1.4"/>
<circle cx="681" cy="235.7" r="4.3" fill="url(#bubS)" stroke="#dfe2f6" stroke-opacity="0.7" stroke-width="0.8"/>
<circle cx="545" cy="317" r="4.5" fill="url(#bubS)" stroke="#dfe2f6" stroke-opacity="0.7" stroke-width="0.8"/>
<circle cx="801" cy="448" r="15.5" fill="url(#bub)" stroke="#dfe2f6" stroke-opacity="0.7" stroke-width="1.4"/>
<circle cx="817.7" cy="364.2" r="10.5" fill="url(#bub)" stroke="#dfe2f6" stroke-opacity="0.7" stroke-width="1.4"/>
<circle cx="843.3" cy="295.3" r="5" fill="url(#bubS)" stroke="#dfe2f6" stroke-opacity="0.7" stroke-width="0.8"/>
<circle cx="888" cy="206" r="9" fill="url(#bub)" stroke="#dfe2f6" stroke-opacity="0.7" stroke-width="1.4"/>
<circle cx="900" cy="173" r="4.5" fill="url(#bubS)" stroke="#dfe2f6" stroke-opacity="0.7" stroke-width="0.8"/>
<circle cx="940" cy="376" r="15.5" fill="url(#bub)" stroke="#dfe2f6" stroke-opacity="0.7" stroke-width="1.4"/>
<circle cx="1000" cy="296" r="10.5" fill="url(#bub)" stroke="#dfe2f6" stroke-opacity="0.7" stroke-width="1.4"/>
<circle cx="984" cy="415" r="10.5" fill="url(#bub)" stroke="#dfe2f6" stroke-opacity="0.7" stroke-width="1.4"/>
<circle cx="934" cy="537" r="24" fill="url(#bub)" stroke="#dfe2f6" stroke-opacity="0.7" stroke-width="1.4"/>
<circle cx="1089" cy="206" r="9" fill="url(#bub)" stroke="#dfe2f6" stroke-opacity="0.7" stroke-width="1.4"/>
<circle cx="1162" cy="130" r="4.5" fill="url(#bubS)" stroke="#dfe2f6" stroke-opacity="0.7" stroke-width="0.8"/>
<circle cx="1208.8" cy="277.7" r="10.5" fill="url(#bub)" stroke="#dfe2f6" stroke-opacity="0.7" stroke-width="1.4"/>
<circle cx="1168" cy="310.5" r="5.2" fill="url(#bubS)" stroke="#dfe2f6" stroke-opacity="0.7" stroke-width="0.8"/>
<circle cx="1234.4" cy="331" r="4.6" fill="url(#bubS)" stroke="#dfe2f6" stroke-opacity="0.7" stroke-width="0.8"/>
<circle cx="1136" cy="367" r="10.5" fill="url(#bub)" stroke="#dfe2f6" stroke-opacity="0.7" stroke-width="1.4"/>
<circle cx="1108" cy="426" r="13.5" fill="url(#bub)" stroke="#dfe2f6" stroke-opacity="0.7" stroke-width="1.4"/>
<circle cx="1173" cy="521" r="24" fill="url(#bub)" stroke="#dfe2f6" stroke-opacity="0.7" stroke-width="1.4"/>
<g fill="#6b5a48" fill-opacity="0.14" stroke="#1c1613" stroke-width="1.9"><path d="M493.8,129.5 V483.5" fill="none"/><circle cx="493.8" cy="493" r="9"/><path d="M95,281 V572.5 H127.5 M175,532 H127.5 V616 H175" fill="none"/><circle cx="184" cy="532" r="9"/><circle cx="184" cy="616" r="9"/><circle cx="295.5" cy="820" r="9"/><path d="M295.5,829 V1213" fill="none"/><circle cx="769" cy="922" r="9"/><path d="M768.3,931 V1278" fill="none"/></g>
<text transform="translate(321.78,44.6) scale(1.1115,1)" font-size="52" stroke="#0b0b0b" stroke-width="1.8" stroke-linejoin="round">Ultra Durable</text>
<text transform="translate(343.41,116.6) scale(1.0945,1)" font-size="52" stroke="#0b0b0b" stroke-width="1.8" stroke-linejoin="round">Outer Layer</text>
<text transform="translate(-0.83,191.2) scale(1.0774,1)" font-size="52" stroke="#0b0b0b" stroke-width="1.8" stroke-linejoin="round">Robustly bound</text>
<text transform="translate(49.09,263.3) scale(1.1051,1)" font-size="52" stroke="#0b0b0b" stroke-width="1.8" stroke-linejoin="round">outer layers</text>
<text transform="translate(1.78,1257.1) scale(1.1068,1)" font-size="52" stroke="#0b0b0b" stroke-width="1.8" stroke-linejoin="round">Breathable membrane</text>
<text transform="translate(79.05,1328.7) scale(1.1183,1)" font-size="52" stroke="#0b0b0b" stroke-width="1.8" stroke-linejoin="round">prevent molding</text>
<text transform="translate(591.41,1333.1) scale(1.0933,1)" font-size="52" stroke="#0b0b0b" stroke-width="1.8" stroke-linejoin="round">Scratch-proof</text>
<text transform="translate(628.62,1405.6) scale(1.1254,1)" font-size="52" stroke="#0b0b0b" stroke-width="1.8" stroke-linejoin="round">inner layer</text>
</svg>
</body>
</html>
